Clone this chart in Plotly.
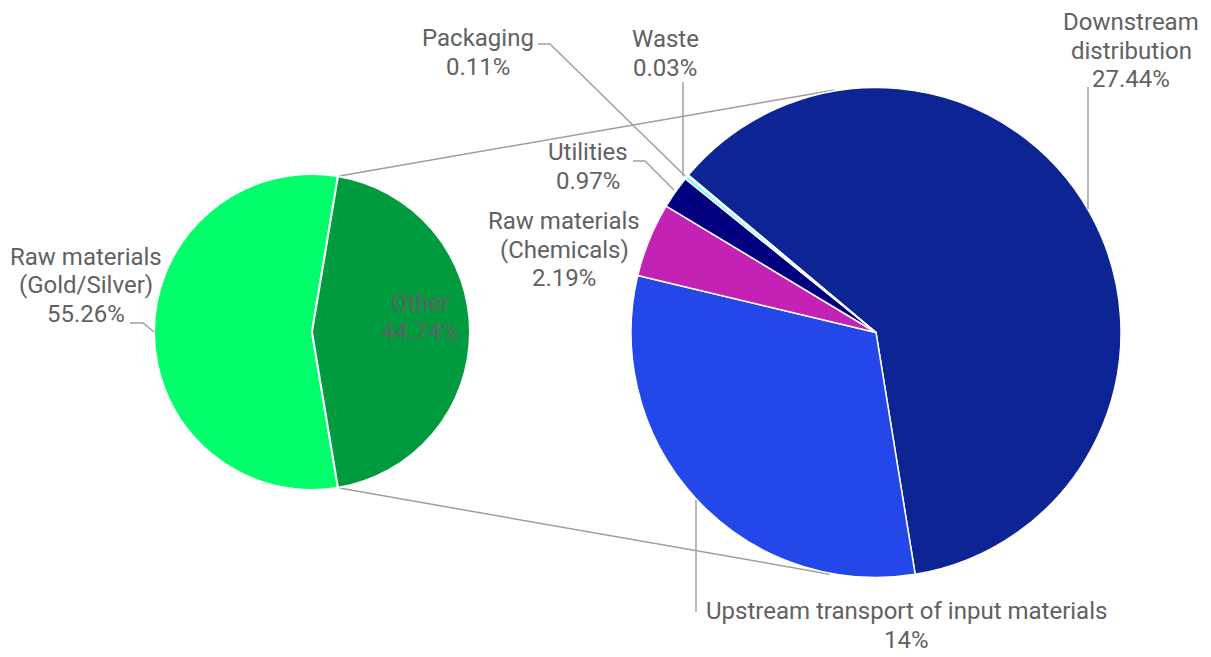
import math
import plotly.graph_objects as go

W, H = 1211, 657

# ---- data ----
outer_labels = ["Raw materials (Gold/Silver)", "Other"]
outer_values = [55.26, 44.74]
outer_colors = ["#00FF6A", "#009A3F"]

inner_labels = ["Downstream distribution", "Upstream transport of input materials",
                "Raw materials (Chemicals)", "Utilities", "Packaging", "Waste"]
inner_values = [27.44, 14, 2.19, 0.97, 0.11, 0.03]
inner_colors = ["#0D2594", "#2447EA", "#C322B5", "#03007F", "#70FFFF", "#C8F0FF"]

# ---- layout geometry (pixels) ----
L_CX, L_CY, L_R = 312, 332, 158
R_CX, R_CY, R_R = 876, 332.5, 245
R_ROT = 310

FONT = "Roboto"
FS = 24
TXT = "#616161"
LINE = "#A0A0A0"


def px(x):
    return x / W


def py(y):
    return 1 - y / H


def dom(cx, cy, r):
    return dict(x=[px(cx - r), px(cx + r)], y=[py(cy + r), py(cy - r)])


def circ(cx, cy, r, ang):
    a = math.radians(ang)
    return cx + r * math.sin(a), cy - r * math.cos(a)


other_span = 360 * outer_values[1] / sum(outer_values)
L_ROT = 90 + other_span / 2

fig = go.Figure()
fig.add_trace(go.Pie(
    labels=outer_labels, values=outer_values, sort=False, direction="clockwise",
    rotation=L_ROT, domain=dom(L_CX, L_CY, L_R), textinfo="none", hoverinfo="label+value",
    marker=dict(colors=outer_colors, line=dict(color="white", width=2)), showlegend=False))
fig.add_trace(go.Pie(
    labels=inner_labels, values=inner_values, sort=False, direction="clockwise",
    rotation=R_ROT, domain=dom(R_CX, R_CY, R_R), textinfo="none", hoverinfo="label+value",
    marker=dict(colors=inner_colors, line=dict(color="white", width=1.5)), showlegend=False))

shapes = []
# connector lines between pies
top_l = circ(L_CX, L_CY, L_R, 90 - other_span / 2)
bot_l = circ(L_CX, L_CY, L_R, 90 + other_span / 2)
top_r = circ(R_CX, R_CY, R_R + 1, -9.6)
bot_r = circ(R_CX, R_CY, R_R + 1, 190.8)
for a, b in [(top_l, top_r), (bot_l, bot_r)]:
    shapes.append(dict(type="line", xref="paper", yref="paper",
                       x0=px(a[0]), y0=py(a[1]), x1=px(b[0]), y1=py(b[1]),
                       line=dict(color="#9E9E9E", width=1.5), layer="below"))

# leader lines (pixel polylines)
leaders = [
    [(130, 323), (143, 323), (154, 332)],
    [(538, 44), (550, 44), (685, 176)],
    [(683, 82), (683, 176)],
    [(633, 161), (645, 161), (674, 190)],
    [(1088, 87), (1088, 209)],
    [(696, 500), (696, 612)],
]
for pts in leaders:
    path = "M " + " L ".join(f"{px(x)},{py(y)}" for x, y in pts)
    shapes.append(dict(type="path", xref="paper", yref="paper", path=path,
                       line=dict(color=LINE, width=1.5)))


def pct(v):
    return f"{v:g}%"


# label blocks: (lines, center x, first line y)
labels = [
    (["Raw materials", "(Gold/Silver)", pct(outer_values[0])], 86, 256.5),
    (["Other", pct(outer_values[1])], 419.5, 303),
    (["Downstream", "distribution", pct(inner_values[0])], 1131, 22),
    (["Upstream transport of input materials", pct(inner_values[1])], 906, 611),
    (["Raw materials", "(Chemicals)", pct(inner_values[2])], 564, 221),
    (["Utilities", pct(inner_values[3])], 588, 152),
    (["Packaging", pct(inner_values[4])], 478, 38),
    (["Waste", pct(inner_values[5])], 665, 39),
]
LS = 28.7
annotations = []
for lines, cx, y0 in labels:
    for i, t in enumerate(lines):
        annotations.append(dict(text=t, x=px(cx), y=py(y0 + i * LS), xref="paper", yref="paper",
                                xanchor="center", yanchor="middle", showarrow=False,
                                font=dict(family=FONT, size=FS, color=TXT)))

fig.update_layout(width=W, height=H, margin=dict(l=0, r=0, t=0, b=0),
                  paper_bgcolor="white", plot_bgcolor="white",
                  shapes=shapes, annotations=annotations, showlegend=False)
fig.write_html("out.html")
